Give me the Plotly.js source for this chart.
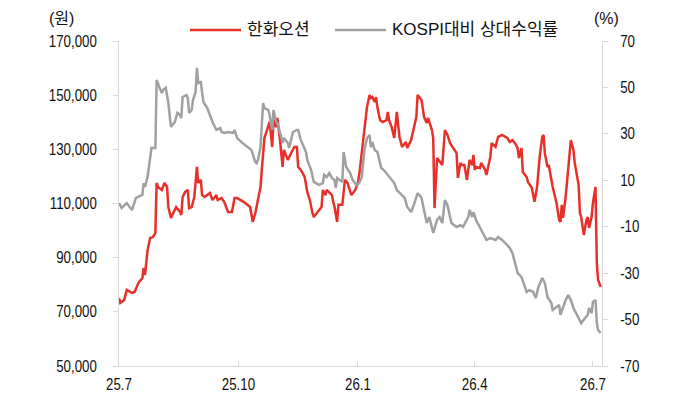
<!DOCTYPE html>
<html>
<head>
<meta charset="utf-8">
<script src="https://cdn.plot.ly/plotly-3.0.1.min.js"></script>
<style>
html,body{margin:0;padding:0;background:#fff;}
#chart{width:676px;height:418px;}
</style>
</head>
<body>
<div id="chart"></div>
<script>
// 한화오션 주가 (원)
const redDates = ["2025-07-01","2025-07-02","2025-07-05","2025-07-07","2025-07-11","2025-07-13","2025-07-16","2025-07-19","2025-07-20","2025-07-21","2025-07-23","2025-07-25","2025-07-27","2025-07-29","2025-07-30","2025-07-31","2025-08-03","2025-08-05","2025-08-07","2025-08-08","2025-08-10","2025-08-12","2025-08-14","2025-08-17","2025-08-18","2025-08-19","2025-08-21","2025-08-23","2025-08-24","2025-08-26","2025-08-28","2025-08-30","2025-08-31","2025-09-02","2025-09-03","2025-09-05","2025-09-09","2025-09-11","2025-09-14","2025-09-15","2025-09-18","2025-09-20","2025-09-23","2025-09-26","2025-09-28","2025-09-30","2025-10-05","2025-10-10","2025-10-12","2025-10-14","2025-10-16","2025-10-18","2025-10-19","2025-10-20","2025-10-21","2025-10-23","2025-10-25","2025-10-27","2025-10-28","2025-10-30","2025-10-31","2025-11-02","2025-11-04","2025-11-05","2025-11-08","2025-11-11","2025-11-13","2025-11-15","2025-11-16","2025-11-18","2025-11-21","2025-11-23","2025-11-25","2025-11-27","2025-11-28","2025-12-01","2025-12-04","2025-12-05","2025-12-07","2025-12-08","2025-12-12","2025-12-13","2025-12-14","2025-12-16","2025-12-17","2025-12-20","2025-12-21","2025-12-22","2025-12-24","2025-12-26","2025-12-27","2025-12-30","2026-01-01","2026-01-02","2026-01-04","2026-01-06","2026-01-08","2026-01-10","2026-01-11","2026-01-12","2026-01-14","2026-01-15","2026-01-16","2026-01-18","2026-01-20","2026-01-23","2026-01-24","2026-01-25","2026-01-27","2026-01-29","2026-01-31","2026-02-02","2026-02-04","2026-02-07","2026-02-08","2026-02-11","2026-02-13","2026-02-15","2026-02-16","2026-02-19","2026-02-21","2026-02-23","2026-02-24","2026-02-27","2026-02-28","2026-03-01","2026-03-03","2026-03-04","2026-03-07","2026-03-09","2026-03-11","2026-03-13","2026-03-15","2026-03-18","2026-03-19","2026-03-21","2026-03-22","2026-03-24","2026-03-26","2026-03-28","2026-03-30","2026-03-31","2026-04-01","2026-04-02","2026-04-05","2026-04-06","2026-04-09","2026-04-10","2026-04-13","2026-04-14","2026-04-17","2026-04-19","2026-04-22","2026-04-26","2026-04-28","2026-04-30","2026-05-02","2026-05-04","2026-05-05","2026-05-07","2026-05-08","2026-05-11","2026-05-12","2026-05-15","2026-05-17","2026-05-19","2026-05-21","2026-05-23","2026-05-24","2026-05-25","2026-05-27","2026-05-28","2026-05-31","2026-06-01","2026-06-03","2026-06-05","2026-06-06","2026-06-07","2026-06-08","2026-06-10","2026-06-12","2026-06-13","2026-06-14","2026-06-16","2026-06-17","2026-06-20","2026-06-21","2026-06-22","2026-06-24","2026-06-26","2026-06-27","2026-06-28","2026-06-30","2026-07-01","2026-07-03","2026-07-04","2026-07-05","2026-07-07"];
const redPrice = [75100,73300,74400,78100,77000,77300,80700,82500,86200,83600,92800,97300,97600,99100,117600,116100,115000,117600,116100,108700,104700,106500,108700,106900,105800,112400,114300,115000,108300,108700,112400,123500,117600,118700,113100,112400,113900,111300,113100,111300,112000,110600,106900,106900,112000,112000,110600,108700,103200,106500,111300,116100,122400,129800,134200,137100,140100,130900,140800,138200,141600,133400,123500,129800,126100,129000,130900,130900,123500,122400,119800,114300,111300,106500,105000,106900,108700,115000,113100,115000,113100,110600,108700,103200,109500,109500,115700,118700,117600,115000,113100,115000,117600,120500,128600,138200,145600,150100,149000,149300,147500,149300,145600,140800,140100,140800,143800,140800,138200,134200,143800,134600,130900,132700,130500,133400,138200,141900,150100,148200,141900,139700,141600,137100,134200,108300,126800,126100,124200,137100,135300,132300,130900,128600,119400,125000,124200,124200,118700,126100,124200,127900,122400,123500,123100,125000,122400,120500,127200,132300,130900,134600,135300,134200,132700,133400,132300,130500,126800,130500,121600,119800,117900,115700,110600,116100,127200,134600,135300,128600,123500,124200,116100,113900,110200,103900,103200,109500,104700,112400,123100,129800,133400,129800,125000,116800,106500,105000,98400,103900,105000,101000,105000,110200,116100,88000,81800,79200];

// KOSPI대비 상대수익률 (%)
const grayDates = ["2025-07-01","2025-07-03","2025-07-07","2025-07-09","2025-07-11","2025-07-14","2025-07-19","2025-07-20","2025-07-21","2025-07-23","2025-07-25","2025-07-26","2025-07-29","2025-07-30","2025-08-01","2025-08-03","2025-08-04","2025-08-06","2025-08-08","2025-08-10","2025-08-13","2025-08-15","2025-08-17","2025-08-18","2025-08-19","2025-08-22","2025-08-23","2025-08-24","2025-08-26","2025-08-27","2025-08-29","2025-08-30","2025-08-31","2025-09-02","2025-09-04","2025-09-07","2025-09-09","2025-09-11","2025-09-14","2025-09-17","2025-09-18","2025-09-20","2025-09-23","2025-09-27","2025-09-28","2025-09-30","2025-10-04","2025-10-08","2025-10-11","2025-10-14","2025-10-15","2025-10-16","2025-10-18","2025-10-20","2025-10-21","2025-10-24","2025-10-25","2025-10-27","2025-10-28","2025-10-30","2025-10-31","2025-11-03","2025-11-04","2025-11-05","2025-11-08","2025-11-09","2025-11-12","2025-11-15","2025-11-16","2025-11-18","2025-11-19","2025-11-22","2025-11-23","2025-11-26","2025-11-28","2025-12-02","2025-12-05","2025-12-06","2025-12-08","2025-12-10","2025-12-12","2025-12-14","2025-12-15","2025-12-16","2025-12-20","2025-12-21","2025-12-23","2025-12-26","2025-12-28","2025-12-31","2026-01-02","2026-01-04","2026-01-06","2026-01-08","2026-01-10","2026-01-11","2026-01-12","2026-01-14","2026-01-16","2026-01-19","2026-01-21","2026-01-24","2026-01-27","2026-01-29","2026-01-31","2026-02-04","2026-02-06","2026-02-08","2026-02-11","2026-02-13","2026-02-16","2026-02-19","2026-02-21","2026-02-23","2026-02-25","2026-02-28","2026-03-03","2026-03-05","2026-03-07","2026-03-09","2026-03-11","2026-03-14","2026-03-18","2026-03-21","2026-03-23","2026-03-27","2026-03-28","2026-03-30","2026-03-31","2026-04-02","2026-04-06","2026-04-10","2026-04-13","2026-04-17","2026-04-19","2026-04-22","2026-04-26","2026-04-28","2026-04-30","2026-05-03","2026-05-04","2026-05-07","2026-05-09","2026-05-11","2026-05-13","2026-05-16","2026-05-18","2026-05-20","2026-05-23","2026-05-25","2026-05-27","2026-05-30","2026-05-31","2026-06-03","2026-06-05","2026-06-06","2026-06-08","2026-06-10","2026-06-12","2026-06-14","2026-06-16","2026-06-19","2026-06-21","2026-06-22","2026-06-25","2026-06-27","2026-06-28","2026-06-30","2026-07-01","2026-07-03","2026-07-04","2026-07-05","2026-07-07"];
const grayRel = [0.2,-1.9,0.2,-1.5,-2.8,2.4,3.7,8.8,7.1,11.4,21.7,23.9,23.9,53.2,50.2,47.6,48.9,49.8,43.3,33.0,35.1,39.0,38.1,36.8,45.9,46.7,45.4,39.0,40.3,44.6,48.0,58.4,51.9,52.3,43.7,41.1,38.1,35.1,31.7,32.5,30.8,30.4,30.8,30.4,31.7,28.2,26.1,24.3,23.0,17.9,17.4,18.7,24.3,43.3,41.1,40.3,38.1,31.7,40.3,35.1,34.7,28.6,26.1,28.2,26.1,23.9,30.8,31.7,31.7,27.4,26.1,22.2,18.7,14.4,9.3,8.0,8.8,12.3,11.4,13.1,11.0,10.1,6.7,11.0,9.3,22.2,15.7,13.1,10.1,7.9,8.8,11.4,23.0,28.2,29.5,24.3,26.5,23.0,22.2,15.3,14.4,12.3,10.1,8.8,5.8,3.7,2.4,-1.5,-3.7,-0.7,4.5,2.4,-3.7,-8.4,-5.8,-12.7,-7.1,-5.8,-8.4,1.5,-0.7,-8.4,-10.1,-9.3,-10.1,-5.8,-2.8,-5.8,-3.7,-7.1,-11.4,-15.7,-14.9,-15.7,-14.4,-15.7,-17.9,-19.2,-21.3,-27.4,-29.9,-31.7,-35.1,-38.1,-37.3,-38.1,-40.7,-36.0,-32.1,-34.3,-40.3,-42.9,-45.9,-44.6,-43.7,-48.0,-44.6,-41.6,-39.4,-41.6,-45.0,-48.0,-50.2,-51.5,-49.3,-48.0,-45.0,-47.2,-42.4,-41.6,-51.5,-54.5,-55.8];

const xTickVals = ["2025-07-01","2025-10-01","2026-01-01","2026-04-01","2026-07-01"];
const xTickText = ["25.7","25.10","26.1","26.4","26.7"];
const leftTickVals = [50000,70000,90000,110000,130000,150000,170000];
const leftTickText = ["50,000","70,000","90,000","110,000","130,000","150,000","170,000"];
const rightTickVals = [-70,-50,-30,-10,10,30,50,70];
const rightTickText = ["-70","-50","-30","-10","10","30","50","70"];
const seriesNames = ["한화오션","KOSPI대비 상대수익률"];

const RED = "#e8302a";
const GRAY = "#a0a0a0";
const AXC = "#d9d9d9";
const NUMFONT = "'Liberation Sans', Arial, sans-serif";
const KRFONT = "'Liberation Sans', 'Noto Sans CJK KR', sans-serif";

const traces = [
  {x: grayDates, y: grayRel, yaxis: "y2", type: "scatter", mode: "lines",
   name: seriesNames[1], line: {color: GRAY, width: 2.5}, showlegend: false},
  {x: redDates, y: redPrice, yaxis: "y", type: "scatter", mode: "lines",
   name: seriesNames[0], line: {color: RED, width: 2.5}, showlegend: false}
];

const PL = 119, PR = 602, PT = 41, PB = 366;
function px2x(px){ return (px - PL) / (PR - PL); }
function py2y(py){ return (PB - py) / (PB - PT); }

const tickFont = {family: NUMFONT, size: 16, color: "#111"};

const layout = {
  width: 676, height: 418,
  margin: {l: PL, r: 676 - PR, t: PT, b: 418 - PB},
  paper_bgcolor: "#fff", plot_bgcolor: "#fff",
  font: {family: NUMFONT, size: 16, color: "#111"},
  xaxis: {
    type: "date", range: ["2025-07-01", "2026-07-08"],
    tickvals: xTickVals, ticktext: xTickText,
    showgrid: false, zeroline: false,
    showline: true, linecolor: AXC, linewidth: 1,
    ticks: "inside", ticklen: 5, tickcolor: AXC,
    ticklabelstandoff: 4,
    tickfont: tickFont
  },
  yaxis: {
    range: [50000, 170000], tickvals: leftTickVals, ticktext: leftTickText,
    showgrid: false, zeroline: false,
    showline: true, linecolor: AXC, linewidth: 1,
    ticks: "outside", ticklen: 5, tickcolor: AXC,
    ticklabelstandoff: 13,
    tickfont: tickFont
  },
  yaxis2: {
    overlaying: "y", side: "right",
    range: [-70, 70], tickvals: rightTickVals, ticktext: rightTickText,
    showgrid: false, zeroline: false,
    showline: true, linecolor: AXC, linewidth: 1,
    ticks: "outside", ticklen: 5, tickcolor: AXC,
    ticklabelstandoff: 9,
    tickfont: tickFont
  },
  shapes: [
    {type: "line", xref: "paper", yref: "paper", x0: px2x(190), x1: px2x(241), y0: py2y(30), y1: py2y(30),
     line: {color: RED, width: 2.5}},
    {type: "line", xref: "paper", yref: "paper", x0: px2x(335), x1: px2x(386), y0: py2y(30), y1: py2y(30),
     line: {color: GRAY, width: 2.5}}
  ],
  annotations: [
    {text: seriesNames[0], xref: "paper", yref: "paper", x: px2x(245), y: py2y(30),
     xanchor: "left", yanchor: "middle", showarrow: false, font: {family: KRFONT, size: 17, color: "#111"}},
    {text: seriesNames[1], xref: "paper", yref: "paper", x: px2x(390), y: py2y(30),
     xanchor: "left", yanchor: "middle", showarrow: false, font: {family: KRFONT, size: 17, color: "#111"}},
    {text: "(원)", xref: "paper", yref: "paper", x: px2x(61), y: py2y(19),
     xanchor: "center", yanchor: "middle", showarrow: false, font: {family: KRFONT, size: 16, color: "#111"}},
    {text: "(%)", xref: "paper", yref: "paper", x: px2x(606), y: py2y(19),
     xanchor: "center", yanchor: "middle", showarrow: false, font: {family: KRFONT, size: 16, color: "#111"}}
  ]
};

Plotly.newPlot("chart", traces, layout, {staticPlot: true, displayModeBar: false}).then(function(gd){
  // condense numeric tick labels to mimic the narrow typeface of the original
  gd.querySelectorAll("g.xtick text, g.ytick text, g.y2tick text").forEach(function(t){
    var w = t.getComputedTextLength();
    t.setAttribute("textLength", (w * 0.83).toFixed(1));
    t.setAttribute("lengthAdjust", "spacingAndGlyphs");
  });
});
</script>
</body>
</html>
